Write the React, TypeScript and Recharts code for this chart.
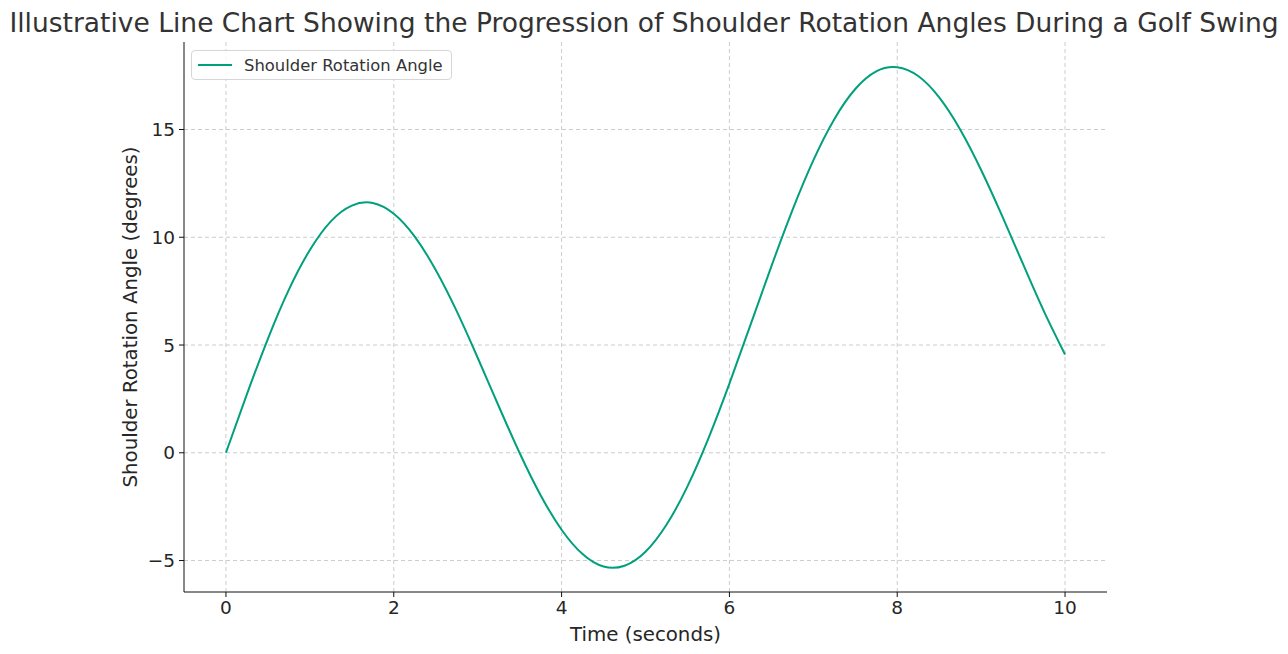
import { CartesianGrid, Legend, Line, LineChart, XAxis, YAxis } from "recharts";

// time in seconds, angle in degrees
const TIME = [
  0, 0.25, 0.5, 0.75, 1, 1.25, 1.5, 1.75, 2, 2.25, 2.5, 2.75, 3, 3.25, 3.5, 3.75, 4, 4.25, 4.5, 4.75,
  5, 5.25, 5.5, 5.75, 6, 6.25, 6.5, 6.75, 7, 7.25, 7.5, 7.75, 8, 8.25, 8.5, 8.75, 9, 9.25, 9.5, 9.75, 10,
];
const ANGLE = [
  0, 2.72, 5.29, 7.57, 9.41, 10.74, 11.47, 11.59, 11.09, 10.03, 8.48, 6.57, 4.41, 2.17, -0.01, -1.97,
  -3.57, -4.7, -5.28, -5.24, -4.59, -3.34, -1.56, 0.67, 3.21, 5.92, 8.65, 11.25, 13.57, 15.48, 16.88,
  17.7, 17.89, 17.48, 16.49, 15.0, 13.12, 10.99, 8.75, 6.55, 4.56,
];
const X_TICKS = [0, 2, 4, 6, 8, 10];
const Y_TICKS = [-5, 0, 5, 10, 15];
const SERIES_NAME = "Shoulder Rotation Angle";

const FONT = "'DejaVu Sans', sans-serif";
const LINE_COLOR = "#00a07c";
const TEXT = "#262626";

const data = TIME.map((t, i) => ({ t, angle: ANGLE[i] }));
const fmt = (v: number) => String(v).replace("-", "\u2212");

function LegendBox() {
  return (
    <div
      style={{
        position: "absolute",
        left: 191,
        top: 50,
        width: 259,
        height: 28,
        border: "1px solid #d6d6d6",
        borderRadius: 4,
        background: "rgba(255,255,255,0.85)",
        display: "flex",
        alignItems: "center",
        fontFamily: FONT,
        fontSize: 16.4,
        color: "#333",
        whiteSpace: "nowrap",
      }}
    >
      <div style={{ width: 34, height: 2, background: LINE_COLOR, marginLeft: 6, marginRight: 12 }} />
      <span>{SERIES_NAME}</span>
    </div>
  );
}

export default function App() {
  return (
    <div style={{ position: "absolute", left: 0, top: 0, width: 1288, height: 654, background: "#fff" }}>
      <div
        style={{
          position: "absolute",
          left: 0,
          top: 7,
          width: 1288,
          textAlign: "center",
          fontFamily: FONT,
          fontSize: 26.5,
          lineHeight: "32px",
          color: "#333",
          whiteSpace: "nowrap",
        }}
      >
        Illustrative Line Chart Showing the Progression of Shoulder Rotation Angles During a Golf Swing
      </div>
      <LineChart width={1288} height={654} data={data} margin={{ top: 42, right: 181, bottom: 2, left: 84 }}>
        <CartesianGrid stroke="#cccccc" strokeDasharray="4 3" syncWithTicks />
        <XAxis
          type="number"
          dataKey="t"
          domain={[-0.5, 10.5]}
          ticks={X_TICKS}
          allowDataOverflow
          height={60}
          tickSize={5}
          tickMargin={4}
          stroke="#111"
          tick={{ fill: TEXT, fontSize: 18.5, fontFamily: FONT }}
          label={{
            value: "Time (seconds)",
            position: "insideBottom",
            offset: 11,
            fill: TEXT,
            fontSize: 19.8,
            fontFamily: FONT,
          }}
        />
        <YAxis
          type="number"
          domain={[-6.46, 19.06]}
          ticks={Y_TICKS}
          allowDataOverflow
          width={100}
          tickSize={5}
          tickMargin={4}
          stroke="#111"
          tickFormatter={fmt}
          tick={{ fill: TEXT, fontSize: 18.5, fontFamily: FONT }}
          label={{
            content: ({ viewBox }: any) => {
              const cx = viewBox.x + 46;
              const cy = viewBox.y + viewBox.height / 2;
              return (
                <text
                  x={cx}
                  y={cy}
                  transform={`rotate(-90 ${cx} ${cy})`}
                  textAnchor="middle"
                  dominantBaseline="central"
                  fill={TEXT}
                  fontSize={19.8}
                  fontFamily={FONT}
                >
                  Shoulder Rotation Angle (degrees)
                </text>
              );
            },
          }}
        />
        <Legend content={() => <LegendBox />} wrapperStyle={{ position: "absolute", left: 0, top: 0 }} />
        <Line
          type="natural"
          dataKey="angle"
          name={SERIES_NAME}
          stroke={LINE_COLOR}
          strokeWidth={2}
          dot={false}
          activeDot={false}
          isAnimationActive={false}
        />
      </LineChart>
    </div>
  );
}
